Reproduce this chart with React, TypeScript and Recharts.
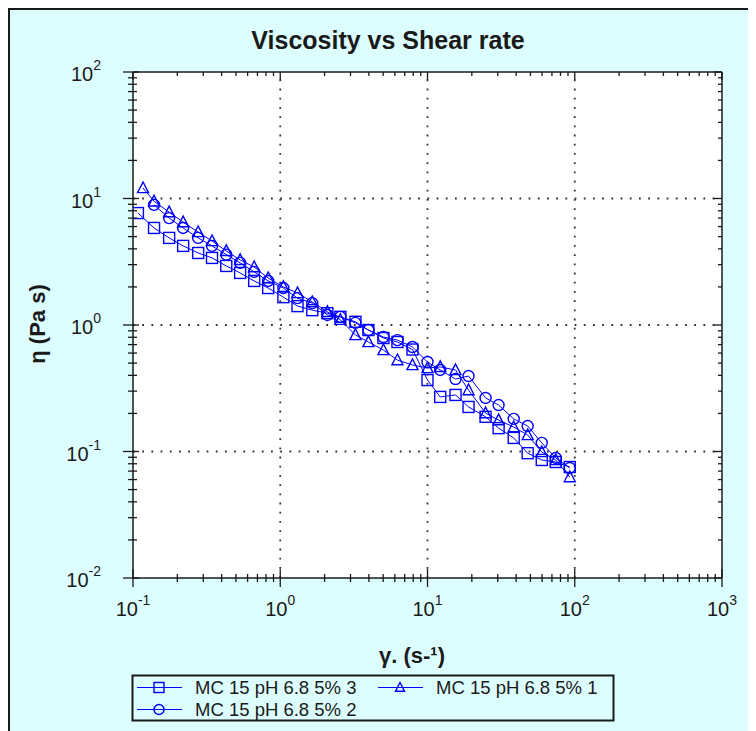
import React from 'react';
import {
  ScatterChart,
  Scatter,
  XAxis,
  YAxis,
  ReferenceLine,
  CartesianGrid,
  Customized,
} from 'recharts';

const FONT = '"Liberation Sans", Arial, Helvetica, sans-serif';
const BLUE = '#0000ff';
const INK = '#1a1a1a';
const CYAN = '#ddfefe';

// ---------- data ----------
const seriesNames = ['MC 15 pH 6.8 5% 3', 'MC 15 pH 6.8 5% 1', 'MC 15 pH 6.8 5% 2'];

const shearRate3 = [0.108, 0.139, 0.176, 0.219, 0.277, 0.344, 0.43, 0.534, 0.665, 0.828, 1.05, 1.31, 1.65, 2.09, 2.56, 3.24, 3.97, 5.02, 6.25, 7.91, 10.0, 12.2, 15.5, 19.0, 24.8, 30.4, 38.5, 47.9, 59.7, 74.3, 92.5];
const viscosity3 = [7.67, 5.85, 4.88, 4.22, 3.71, 3.39, 2.93, 2.58, 2.23, 1.96, 1.66, 1.41, 1.31, 1.24, 1.16, 1.06, 0.912, 0.789, 0.734, 0.64, 0.367, 0.27, 0.28, 0.225, 0.188, 0.153, 0.128, 0.097, 0.0857, 0.0826, 0.0754];

const shearRate1 = [0.117, 0.139, 0.176, 0.219, 0.277, 0.344, 0.43, 0.534, 0.665, 0.828, 1.05, 1.31, 1.65, 2.09, 2.56, 3.24, 3.97, 5.02, 6.25, 7.91, 10.0, 12.2, 15.5, 19.0, 24.8, 30.4, 38.5, 47.9, 59.7, 74.3, 92.5];
const viscosity1 = [12.1, 9.5, 7.8, 6.5, 5.43, 4.61, 3.85, 3.27, 2.87, 2.35, 2.0, 1.79, 1.52, 1.27, 1.1, 0.834, 0.734, 0.634, 0.528, 0.483, 0.457, 0.466, 0.441, 0.306, 0.201, 0.177, 0.156, 0.135, 0.099, 0.0857, 0.0628];

const shearRate2 = [0.139, 0.176, 0.219, 0.277, 0.344, 0.43, 0.534, 0.665, 0.828, 1.05, 1.31, 1.65, 2.09, 2.56, 3.24, 3.97, 5.02, 6.25, 7.91, 10.0, 12.2, 15.5, 19.0, 24.8, 30.4, 38.5, 47.9, 59.7, 74.3, 92.5];
const viscosity2 = [8.9, 7.0, 5.85, 4.88, 4.22, 3.6, 3.1, 2.63, 2.23, 1.96, 1.63, 1.49, 1.2, 1.16, 1.04, 0.912, 0.803, 0.76, 0.67, 0.51, 0.441, 0.374, 0.395, 0.265, 0.233, 0.181, 0.159, 0.117, 0.0889, 0.0741];

const xDecades = [0.1, 1, 10, 100, 1000];
const xExponents = ['-1', '0', '1', '2', '3'];
const yDecades = [0.01, 0.1, 1, 10, 100];
const yExponents = ['-2', '-1', '0', '1', '2'];
const minorSteps = [2, 3, 4, 5, 6, 7, 8, 9];

const gridX = [1, 10, 100];
const gridY = [0.1, 1, 10];

const titleText = 'Viscosity vs Shear rate';
const xLabelText = 'γ. (s-¹)';
const yLabelText = 'η (Pa s)';

// ---------- helpers ----------
const buildTicks = (decades: number[]) => {
  const t: number[] = [];
  decades.forEach((d, i) => {
    t.push(d);
    if (i < decades.length - 1) minorSteps.forEach((m) => t.push(+(d * m).toPrecision(6)));
  });
  return t;
};
const xTicks = buildTicks(xDecades);
const yTicks = buildTicks(yDecades);
const X_MAX = xDecades[xDecades.length - 1];
const Y_MAX = yDecades[yDecades.length - 1];

const isMajor = (v: number) => {
  const l = Math.log10(v);
  return Math.abs(l - Math.round(l)) < 1e-6;
};
const expFor = (v: number, decades: number[], exps: string[]) => {
  const i = decades.findIndex((d) => Math.abs(Math.log10(d) - Math.log10(v)) < 1e-6);
  return i >= 0 ? exps[i] : '';
};

const toData = (xs: number[], ys: number[]) => xs.map((x, i) => ({ x, y: ys[i] }));
const data3 = toData(shearRate3, viscosity3);
const data1 = toData(shearRate1, viscosity1);
const data2 = toData(shearRate2, viscosity2);

// ---------- ticks ----------
const BottomTick = (props: any) => {
  const { x, y, payload } = props;
  const v = payload.value;
  const major = isMajor(v);
  const len = major ? 9 : 4;
  return (
    <g>
      <line x1={x} x2={x} y1={y - len} y2={y + len} stroke={INK} strokeWidth={1.3} />
      {major && (
        <text x={x} y={y + 38} textAnchor="middle" fontFamily={FONT} fontSize={20} fill={INK}>
          <tspan>10</tspan>
          <tspan dy={-11} fontSize={14}>{expFor(v, xDecades, xExponents)}</tspan>
        </text>
      )}
    </g>
  );
};

const LeftTick = (props: any) => {
  const { x, y, payload } = props;
  const v = payload.value;
  const major = isMajor(v);
  return (
    <g>
      <line x1={x - (major ? 10 : 5)} x2={x + (major ? 6 : 4)} y1={y} y2={y} stroke={INK} strokeWidth={1.3} />
      {major && (
        <text x={x - 32} y={y + 9} textAnchor="end" fontFamily={FONT} fontSize={20} fill={INK}>
          <tspan>10</tspan>
          <tspan dy={-11} fontSize={14}>{expFor(v, yDecades, yExponents)}</tspan>
        </text>
      )}
    </g>
  );
};

// top-edge tick drawn from a vertical reference line's coordinates
const topTickShape = (len: number) => (p: any) => {
  const top = Math.min(p.y1, p.y2);
  return <line x1={p.x1} x2={p.x1} y1={top} y2={top + len} stroke={INK} strokeWidth={1.3} />;
};
// right-edge tick drawn from a horizontal reference line's coordinates
const rightTickShape = (len: number) => (p: any) => {
  const right = Math.max(p.x1, p.x2);
  return <line x1={right - len} x2={right} y1={p.y1} y2={p.y1} stroke={INK} strokeWidth={1.3} />;
};

// ---------- markers ----------
const SquareMark = ({ cx, cy, s = 11 }: any) => (
  <rect x={cx - s / 2} y={cy - s / 2} width={s} height={s} fill="none" stroke={BLUE} strokeWidth={1.4} />
);
const CircleMark = ({ cx, cy, s = 11 }: any) => (
  <circle cx={cx} cy={cy} r={s / 2} fill="none" stroke={BLUE} strokeWidth={1.4} />
);
const TriangleMark = ({ cx, cy, s = 11 }: any) => (
  <polygon
    points={`${cx},${cy - s * 0.55} ${cx - s / 2},${cy + s * 0.42} ${cx + s / 2},${cy + s * 0.42}`}
    fill="none"
    stroke={BLUE}
    strokeWidth={1.4}
  />
);

const marks = [SquareMark, TriangleMark, CircleMark];

// ---------- decorations ----------
const Decorations = () => (
  <g>
    <text x={380} y={41} textAnchor="middle" fontFamily={FONT} fontSize={25} fontWeight="bold" fill={INK}>
      {titleText}
    </text>
    <text
      x={29}
      y={316}
      transform="rotate(-90, 29, 316)"
      textAnchor="middle"
      dominantBaseline="central"
      fontFamily={FONT}
      fontSize={22}
      fontWeight="bold"
      fill={INK}
    >
      {yLabelText}
    </text>
    <text x={404} y={655} textAnchor="middle" fontFamily={FONT} fontSize={22} fontWeight="bold" fill={INK}>
      {xLabelText}
    </text>
  </g>
);

const legendSlots = [
  { x: 129, y: 679.5 },
  { x: 370, y: 679.5 },
  { x: 129, y: 701.5 },
];

const LegendBox = () => (
  <g>
    <rect x={124.5} y={667.5} width={481} height={45} fill={CYAN} stroke={INK} strokeWidth={2} />
    {seriesNames.map((name, i) => {
      const slot = legendSlots[i];
      const M = marks[i];
      return (
        <g key={name}>
          <line x1={slot.x} x2={slot.x + 45} y1={slot.y} y2={slot.y} stroke={BLUE} strokeWidth={1.2} />
          <M cx={slot.x + 22} cy={slot.y} s={i === 1 ? 9 : 10} />
          <text x={slot.x + 58} y={slot.y + 6.5} fontFamily={FONT} fontSize={18.5} fill={INK}>
            {name}
          </text>
        </g>
      );
    })}
  </g>
);

export default function App() {
  return (
    <div
      style={{
        position: 'relative',
        width: 748,
        height: 723,
        background: CYAN,
        boxSizing: 'border-box',
        borderTop: `2px solid ${INK}`,
        borderLeft: `2px solid ${INK}`,
      }}
    >
      <div style={{ position: 'absolute', left: -2, top: -2 }}>
        <ScatterChart width={748} height={723} margin={{ top: 64, right: 34, bottom: 93, left: 65 }}>
          <CartesianGrid fill="#ffffff" fillOpacity={1} horizontal={false} vertical={false} />
          {gridX.map((g) => (
            <ReferenceLine key={'gx' + g} x={g} stroke="#333" strokeWidth={1.8} strokeDasharray="1.8 7.4" />
          ))}
          {gridY.map((g) => (
            <ReferenceLine key={'gy' + g} y={g} stroke="#333" strokeWidth={1.8} strokeDasharray="1.8 7.4" />
          ))}
          <XAxis
            type="number"
            dataKey="x"
            scale="log"
            domain={[0.1, 1000]}
            ticks={xTicks}
            allowDataOverflow
            interval={0}
            height={60}
            tickSize={0}
            tickMargin={0}
            tickLine={false}
            tick={<BottomTick />}
            axisLine={{ stroke: INK, strokeWidth: 1.5 }}
          />
          <YAxis
            type="number"
            dataKey="y"
            scale="log"
            domain={[0.01, 100]}
            ticks={yTicks}
            allowDataOverflow
            interval={0}
            width={60}
            tickSize={0}
            tickMargin={0}
            tickLine={false}
            tick={<LeftTick />}
            axisLine={{ stroke: INK, strokeWidth: 1.5 }}
          />
          {/* top and right frame edges with inward ticks */}
          <ReferenceLine y={Y_MAX} stroke={INK} strokeWidth={1.5} />
          <ReferenceLine x={X_MAX} stroke={INK} strokeWidth={1.5} />
          {xTicks.map((t) => (
            <ReferenceLine key={'tt' + t} x={t} shape={topTickShape(isMajor(t) ? 8 : 4)} />
          ))}
          {yTicks.map((t) => (
            <ReferenceLine key={'rt' + t} y={t} shape={rightTickShape(isMajor(t) ? 8 : 4)} />
          ))}
          <Scatter
            name={seriesNames[0]}
            data={data3}
            isAnimationActive={false}
            line={{ stroke: BLUE, strokeWidth: 1 }}
            lineType="joint"
            shape={(p: any) => <SquareMark cx={p.cx} cy={p.cy} />}
          />
          <Scatter
            name={seriesNames[1]}
            data={data1}
            isAnimationActive={false}
            line={{ stroke: BLUE, strokeWidth: 1 }}
            lineType="joint"
            shape={(p: any) => <TriangleMark cx={p.cx} cy={p.cy} />}
          />
          <Scatter
            name={seriesNames[2]}
            data={data2}
            isAnimationActive={false}
            line={{ stroke: BLUE, strokeWidth: 1 }}
            lineType="joint"
            shape={(p: any) => <CircleMark cx={p.cx} cy={p.cy} />}
          />
          <Customized component={Decorations} />
          <Customized component={LegendBox} />
        </ScatterChart>
      </div>
    </div>
  );
}
